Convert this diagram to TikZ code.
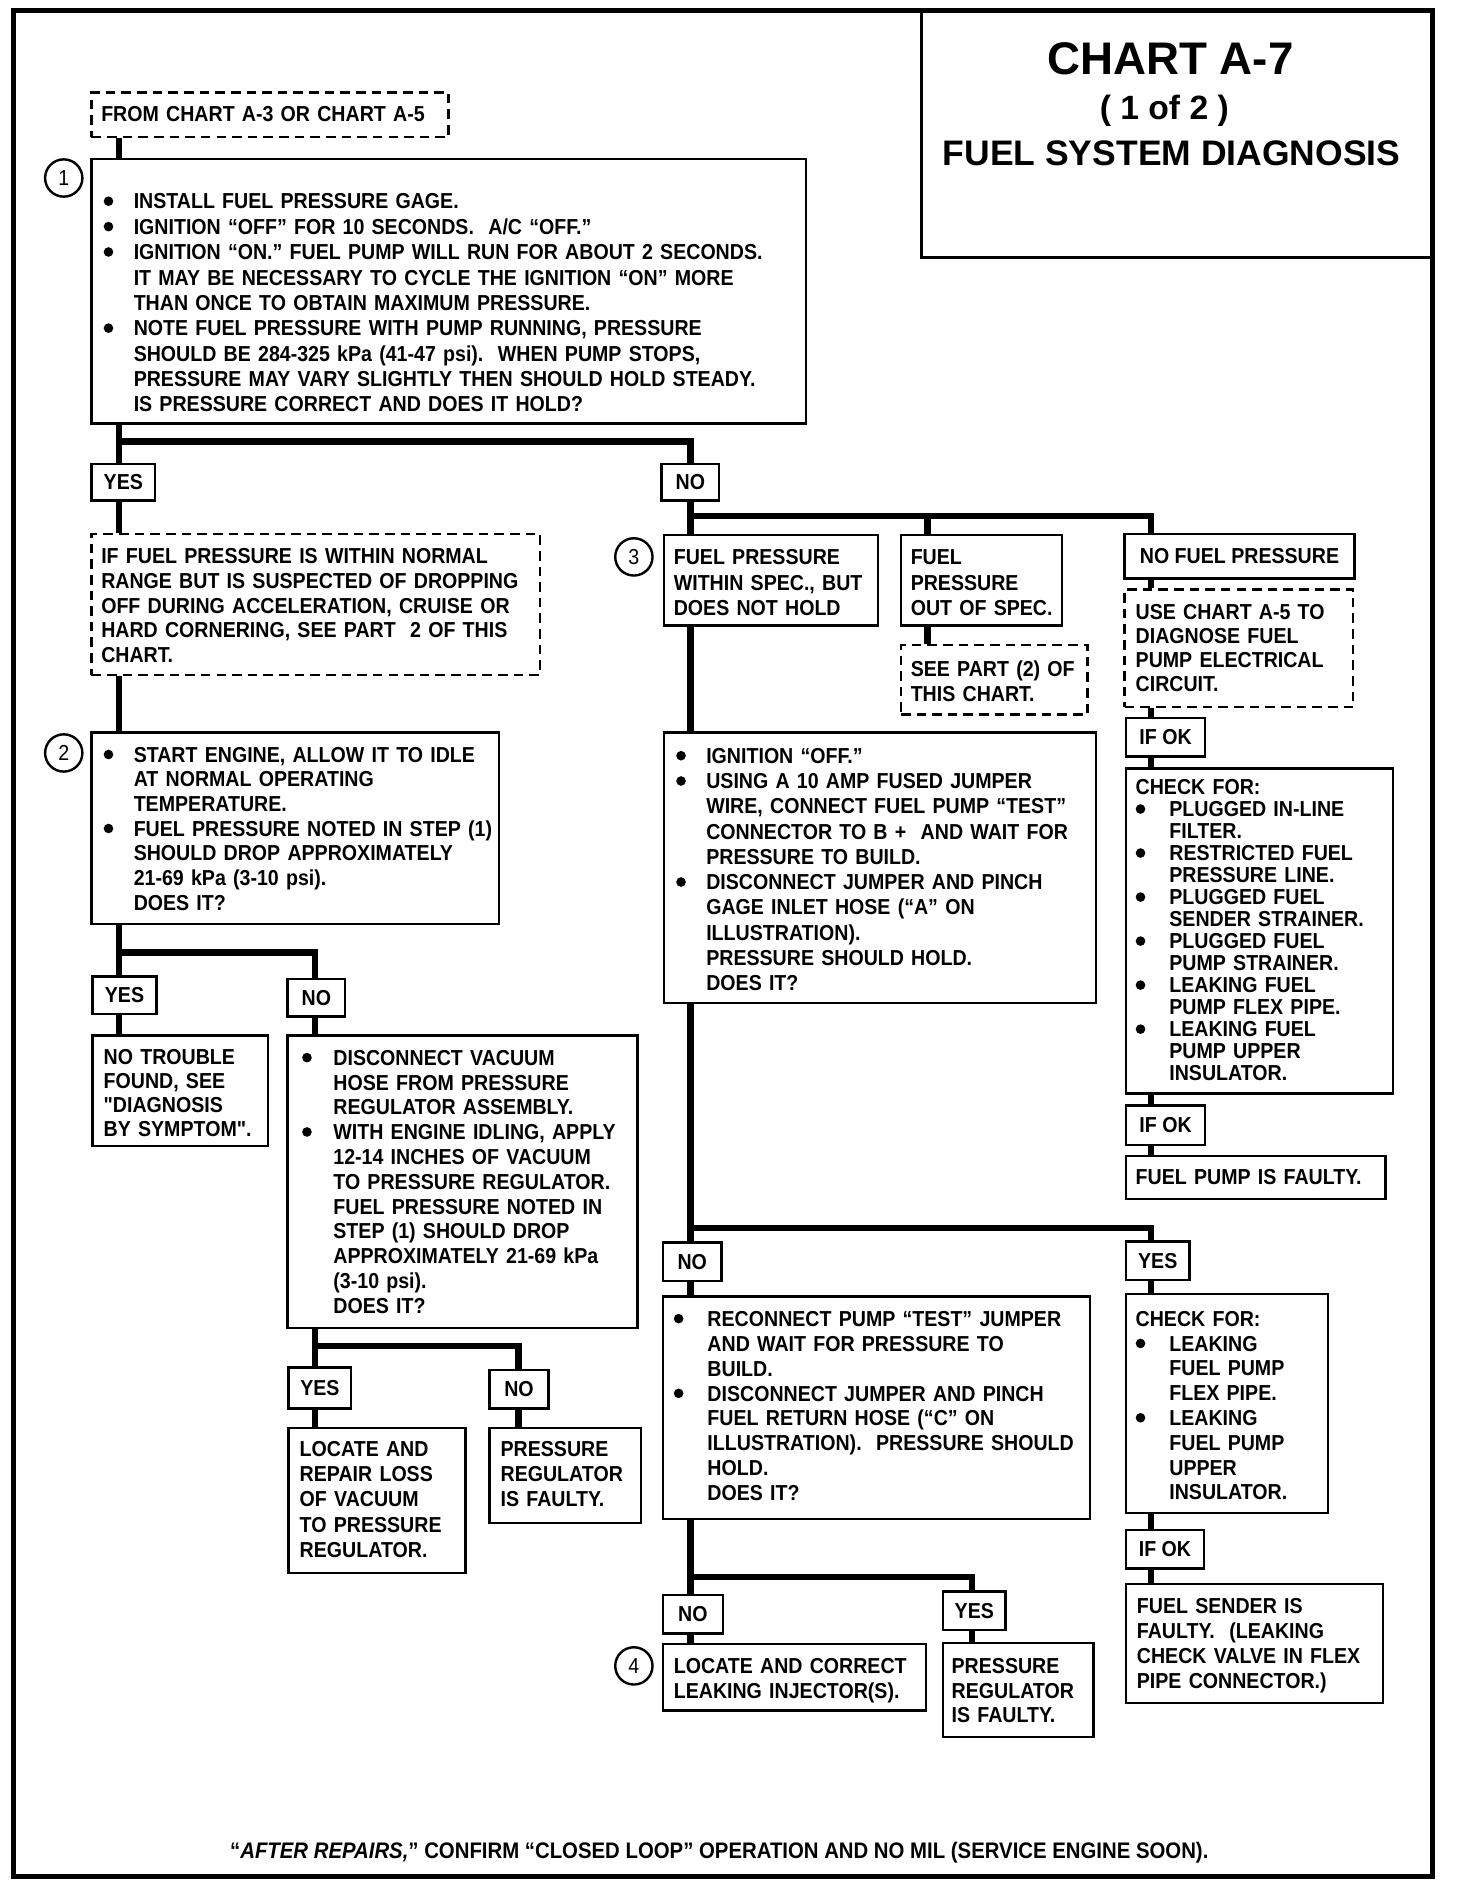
\documentclass[tikz,border=0pt]{standalone}
\usepackage{fontspec}
\newfontfamily\cond[FakeStretch=0.905]{Liberation Sans}
\newfontfamily\ttl{Liberation Sans}
\newcommand\bw{24pt}
\newcommand\dotmark{\raisebox{2.4pt}{\tikz\fill (0,0) circle[radius=4pt];}}
\newcommand\Bul{\makebox[\bw][l]{\dotmark}}
\newcommand\Ind{\hspace*{\bw}}
\newcommand\BX[6][]{\node[box,#1,anchor=north west,minimum width={#4-#2},minimum height={#5-#3}] (#6) at (#2,#3) {};}
\newcommand\LB[7][]{\node[lab,#1,anchor=north west,minimum width={#4-#2},minimum height={#5-#3}] (#6) at (#2,#3) {#7};}
\tikzset{
  box/.style={draw, line width=2pt, fill=white, inner sep=0pt, rectangle},
  dbox/.style={box, dash pattern=on 8pt off 5pt},
  lab/.style={box, font=\cond\bfseries\fontsize{18}{18}\selectfont},
  txt/.style={anchor=north west, inner sep=0pt, align=left, text width=700pt,
    font=\cond\bfseries\fontsize{18}{#1}\selectfont,
    execute at begin node={\rule{0pt}{14pt}}},
  txt/.default=21,
  conn/.style={line width=5.5pt, line cap=butt, line join=miter},
  num/.style={circle, draw, line width=2pt, minimum size=31pt, inner sep=0pt, fill=white,
    font=\cond\fontsize{18}{18}\selectfont},
}
\begin{document}
\begin{tikzpicture}[x=1pt,y=-1pt]
\fill[white] (0,0) rectangle (1211,1568);
\useasboundingbox (0,0) rectangle (1211,1568);

% title
\BX{765}{8.5}{1191}{213}{title}
\node[font=\ttl\bfseries\fontsize{38}{38}\selectfont, anchor=base] (t1) at (973,62) {CHART A-7};
\node[font=\ttl\bfseries\fontsize{28}{28}\selectfont, anchor=base] (t2) at (968,99) {( 1 of 2 )};
\node[font=\ttl\bfseries\fontsize{29.5}{30}\selectfont, anchor=base] (t3) at (974,138) {FUEL SYSTEM DIAGNOSIS};

% boxes
\BX[dbox]{75}{76}{372}{113}{from}
\BX{75}{131}{669}{351}{b1}
\LB{75}{385}{128}{415}{yes1}{YES}
\LB{549}{385}{597}{415}{no1}{NO}
\BX[dbox]{75}{443}{448}{560}{iff}
\BX{75}{608}{414}{767}{b2}
\LB{76}{811}{129}{842}{yes2}{YES}
\LB{238}{813}{286}{844}{no2}{NO}
\BX{76}{860}{222}{952}{ntf}
\BX{238}{860}{529}{1103}{b11}
\LB{239}{1136}{291}{1170}{yes3}{YES}
\LB{406}{1138}{455}{1170}{no3}{NO}
\BX{239}{1186}{386}{1307}{lr}
\BX{406}{1186}{532}{1265}{pr1}
\BX{551}{444}{729}{519}{b3a}
\BX{748}{444}{882}{519}{b3b}
\BX[dbox]{748}{535}{903}{593}{see}
\LB{934}{443}{1125}{480}{nofp}{NO FUEL PRESSURE}
\BX[dbox]{934}{489}{1124}{587}{use}
\LB{935}{596}{1001}{628}{ifok1}{IF OK}
\BX{935}{638}{1157}{908}{chk1}
\LB{935}{918}{1001}{951}{ifok2}{IF OK}
\BX{935}{960}{1151}{996}{fpf}
\BX{551}{608}{910}{833}{b3c}
\LB{550}{1032}{599}{1064}{no4}{NO}
\LB{935}{1031}{988}{1063}{yes4}{YES}
\BX{550}{1077}{905}{1262}{b4a}
\BX{935}{1075}{1103}{1257}{b4b}
\LB{935}{1271}{1000}{1303}{ifok3}{IF OK}
\BX{935}{1316}{1149}{1415}{fsf}
\LB{550}{1325}{600}{1357}{no5}{NO}
\LB{783}{1322}{835}{1354}{yes5}{YES}
\BX{550}{1366}{769}{1421}{lci}
\BX{783}{1365}{908}{1443}{pr2}

% number circles
\node[num] (c1) at (53,148) {1};
\node[num] (c2) at (53,626) {2};
\node[num] (c3) at (527,463) {3};
\node[num] (c4) at (527,1385) {4};

% texts
\node[txt] (fromt) at (84,86.5) {FROM CHART A-3 OR CHART A-5};
\node[txt=21.1] (b1t) at (86,159.5) {\def\bw{25pt}\Bul INSTALL FUEL PRESSURE GAGE.\\
\Bul IGNITION “OFF” FOR 10 SECONDS.\ \ A/C “OFF.”\\
\Bul IGNITION “ON.” FUEL PUMP WILL RUN FOR ABOUT 2 SECONDS.\\
\Ind IT MAY BE NECESSARY TO CYCLE THE IGNITION “ON” MORE\\
\Ind THAN ONCE TO OBTAIN MAXIMUM PRESSURE.\\
\Bul NOTE FUEL PRESSURE WITH PUMP RUNNING, PRESSURE\\
\Ind SHOULD BE 284-325 kPa (41-47 psi).\ \ WHEN PUMP STOPS,\\
\Ind PRESSURE MAY VARY SLIGHTLY THEN SHOULD HOLD STEADY.\\
\Ind IS PRESSURE CORRECT AND DOES IT HOLD?};
\node[txt=20.5] (ifft) at (84,454.5) {IF FUEL PRESSURE IS WITHIN NORMAL\\
RANGE BUT IS SUSPECTED OF DROPPING\\
OFF DURING ACCELERATION, CRUISE OR\\
HARD CORNERING, SEE PART\ \ 2 OF THIS\\
CHART.};
\node[txt=20.5] (b2t) at (86,619.5) {\def\bw{25pt}\Bul START ENGINE, ALLOW IT TO IDLE\\
\Ind AT NORMAL OPERATING\\
\Ind TEMPERATURE.\\
\Bul FUEL PRESSURE NOTED IN STEP (1)\\
\Ind SHOULD DROP APPROXIMATELY\\
\Ind 21-69 kPa (3-10 psi).\\
\Ind DOES IT?};
\node[txt=20] (ntft) at (86,870.5) {NO TROUBLE\\
FOUND, SEE\\
"DIAGNOSIS\\
BY SYMPTOM".};
\node[txt=20.6] (b11t) at (251,871.5) {\def\bw{26pt}\Bul DISCONNECT VACUUM\\
\Ind HOSE FROM PRESSURE\\
\Ind REGULATOR ASSEMBLY.\\
\Bul WITH ENGINE IDLING, APPLY\\
\Ind 12-14 INCHES OF VACUUM\\
\Ind TO PRESSURE REGULATOR.\\
\Ind FUEL PRESSURE NOTED IN\\
\Ind STEP (1) SHOULD DROP\\
\Ind APPROXIMATELY 21-69 kPa\\
\Ind (3-10 psi).\\
\Ind DOES IT?};
\node[txt=21] (lrt) at (249,1196.5) {LOCATE AND\\
REPAIR LOSS\\
OF VACUUM\\
TO PRESSURE\\
REGULATOR.};
\node[txt=21] (pr1t) at (416,1196.5) {PRESSURE\\
REGULATOR\\
IS FAULTY.};
\node[txt=21] (b3at) at (560,455.5) {FUEL PRESSURE\\
WITHIN SPEC., BUT\\
DOES NOT HOLD};
\node[txt=21] (b3bt) at (757,455.5) {FUEL\\
PRESSURE\\
OUT OF SPEC.};
\node[txt=20.5] (seet) at (757,548.5) {SEE PART (2) OF\\
THIS CHART.};
\node[txt=20] (uset) at (944,500.5) {USE CHART A-5 TO\\
DIAGNOSE FUEL\\
PUMP ELECTRICAL\\
CIRCUIT.};
\node[txt=18.3] (chk1t) at (944,646.5) {\def\bw{28pt}CHECK FOR:\\
\Bul PLUGGED IN-LINE\\
\Ind FILTER.\\
\Bul RESTRICTED FUEL\\
\Ind PRESSURE LINE.\\
\Bul PLUGGED FUEL\\
\Ind SENDER STRAINER.\\
\Bul PLUGGED FUEL\\
\Ind PUMP STRAINER.\\
\Bul LEAKING FUEL\\
\Ind PUMP FLEX PIPE.\\
\Bul LEAKING FUEL\\
\Ind PUMP UPPER\\
\Ind INSULATOR.};
\node[txt=19] (fpft) at (944,970.5) {FUEL PUMP IS FAULTY.};
\node[txt=21] (b3ct) at (562,620.5) {\def\bw{25pt}\Bul IGNITION “OFF.”\\
\Bul USING A 10 AMP FUSED JUMPER\\
\Ind WIRE, CONNECT FUEL PUMP “TEST”\\
\Ind CONNECTOR TO B +\ \ AND WAIT FOR\\
\Ind PRESSURE TO BUILD.\\
\Bul DISCONNECT JUMPER AND PINCH\\
\Ind GAGE INLET HOSE (“A” ON\\
\Ind ILLUSTRATION).\\
\Ind PRESSURE SHOULD HOLD.\\
\Ind DOES IT?};
\node[txt=20.7] (b4at) at (560,1088.5) {\def\bw{28pt}\Bul RECONNECT PUMP “TEST” JUMPER\\
\Ind AND WAIT FOR PRESSURE TO\\
\Ind BUILD.\\
\Bul DISCONNECT JUMPER AND PINCH\\
\Ind FUEL RETURN HOSE (“C” ON\\
\Ind ILLUSTRATION).\ \ PRESSURE SHOULD\\
\Ind HOLD.\\
\Ind DOES IT?};
\node[txt=20.6] (b4bt) at (944,1088.5) {\def\bw{28pt}CHECK FOR:\\
\Bul LEAKING\\
\Ind FUEL PUMP\\
\Ind FLEX PIPE.\\
\Bul LEAKING\\
\Ind FUEL PUMP\\
\Ind UPPER\\
\Ind INSULATOR.};
\node[txt=20.7] (fsft) at (945,1327.5) {FUEL SENDER IS\\
FAULTY.\ \ (LEAKING\\
CHECK VALVE IN FLEX\\
PIPE CONNECTOR.)};
\node[txt=20] (lcit) at (560,1377.5) {LOCATE AND CORRECT\\
LEAKING INJECTOR(S).};
\node[txt=20] (pr2t) at (791,1377.5) {PRESSURE\\
REGULATOR\\
IS FAULTY.};

\node[font=\cond\bfseries\fontsize{18.7}{19}\selectfont, anchor=base, inner sep=0pt] (foot) at (598,1545)
  {“\textit{AFTER REPAIRS,}” CONFIRM “CLOSED LOOP” OPERATION AND NO MIL (SERVICE ENGINE SOON).};

% connectors
\coordinate (xL) at (99,0);
\coordinate (xM) at (262,0);
\coordinate (xN) at (431,0);
\coordinate (xR) at (574,0);
\coordinate (xS) at (771,0);
\coordinate (xF) at (957,0);
\coordinate (xY) at (808,0);
\coordinate (j1) at (99,367);
\coordinate (j2) at (99,792);
\coordinate (j3) at (262,1119);
\coordinate (j4) at (574,429);
\coordinate (j5) at (574,1021);
\coordinate (j6) at (574,1311);

\draw[conn] (from.south -| xL) -- (b1.north -| xL);
\draw[conn] (b1.south -| xL) -- (yes1.north -| xL);
\draw[conn] (j1) -| (no1.north -| xR);
\draw[conn] (yes1.south -| xL) -- (iff.north -| xL);
\draw[conn] (iff.south -| xL) -- (b2.north -| xL);
\draw[conn] (b2.south -| xL) -- (yes2.north -| xL);
\draw[conn] (j2) -| (no2.north -| xM);
\draw[conn] (yes2.south -| xL) -- (ntf.north -| xL);
\draw[conn] (no2.south -| xM) -- (b11.north -| xM);
\draw[conn] (b11.south -| xM) -- (yes3.north -| xM);
\draw[conn] (j3) -| (no3.north -| xN);
\draw[conn] (yes3.south -| xM) -- (lr.north -| xM);
\draw[conn] (no3.south -| xN) -- (pr1.north -| xN);
\draw[conn] (no1.south -| xR) -- (b3a.north -| xR);
\draw[conn] (j4) -| (nofp.north -| xF);
\draw[conn] (j4 -| xS) -- (b3b.north -| xS);
\draw[conn] (b3b.south -| xS) -- (see.north -| xS);
\draw[conn] (nofp.south -| xF) -- (use.north -| xF);
\draw[conn] (use.south -| xF) -- (ifok1.north -| xF);
\draw[conn] (ifok1.south -| xF) -- (chk1.north -| xF);
\draw[conn] (chk1.south -| xF) -- (ifok2.north -| xF);
\draw[conn] (ifok2.south -| xF) -- (fpf.north -| xF);
\draw[conn] (b3a.south -| xR) -- (b3c.north -| xR);
\draw[conn] (b3c.south -| xR) -- (no4.north -| xR);
\draw[conn] (j5) -| (yes4.north -| xF);
\draw[conn] (no4.south -| xR) -- (b4a.north -| xR);
\draw[conn] (yes4.south -| xF) -- (b4b.north -| xF);
\draw[conn] (b4b.south -| xF) -- (ifok3.north -| xF);
\draw[conn] (ifok3.south -| xF) -- (fsf.north -| xF);
\draw[conn] (b4a.south -| xR) -- (no5.north -| xR);
\draw[conn] (j6) -| (yes5.north -| xY);
\draw[conn] (no5.south -| xR) -- (lci.north -| xR);
\draw[conn] (yes5.south -| xY) -- (pr2.north -| xY);

% outer frame
\draw[line width=4.5pt] (11,8.5) rectangle (1191,1560);
\end{tikzpicture}
\end{document}
